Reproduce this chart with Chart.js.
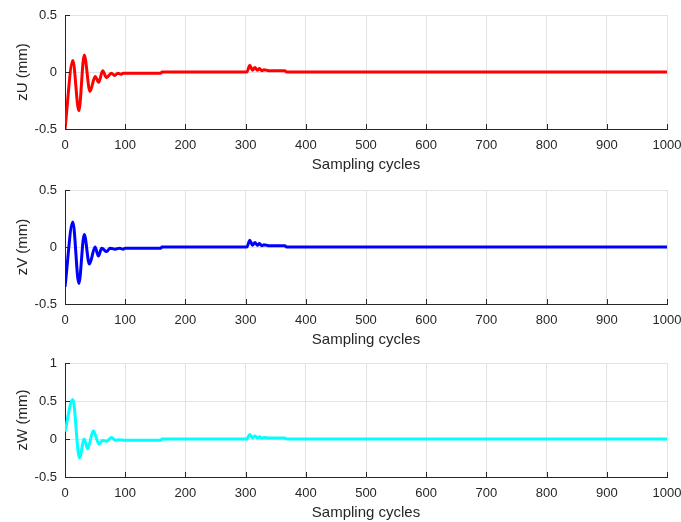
<!DOCTYPE html>
<html>
<head>
<meta charset="utf-8">
<script src="https://cdn.jsdelivr.net/npm/chart.js@4"></script>
<style>
  html, body { margin: 0; padding: 0; background: #fff; }
  #wrap { position: relative; width: 681px; height: 522px; }
  .panel { position: absolute; left: 0; width: 681px; height: 174px; }
</style>
</head>
<body>
<div id="wrap">
  <div class="panel" style="top:0px"><canvas id="chartU"></canvas></div>
  <div class="panel" style="top:175px"><canvas id="chartV"></canvas></div>
  <div class="panel" style="top:348px"><canvas id="chartW"></canvas></div>
</div>
<script>
// sampling cycle positions and values
const cyclesU = [0, 13, 23, 32, 41.5, 50, 56, 62.5, 69, 77, 82.5, 88, 93, 97, 100, 159, 161,
  302, 307, 311.5, 315.5, 319.5, 323, 327, 330.5, 338, 365, 368, 1000];
const valuesU = [-0.5, 0.10, -0.34, 0.15, -0.17, -0.04, -0.09, 0.01, -0.05, -0.01, -0.03, -0.01, -0.02, -0.01, -0.01, -0.01, 0,
  0, 0.06, 0.015, 0.04, 0.015, 0.03, 0.012, 0.02, 0.012, 0.012, 0, 0];

const cyclesV = [0, 13, 23, 32, 40.5, 50, 55.5, 61, 69, 75, 83, 91, 96.5, 100, 159, 161,
  302, 307, 311.5, 315.5, 319.5, 323, 327, 330.5, 338, 365, 368, 1000];
const valuesV = [-0.35, 0.22, -0.32, 0.11, -0.15, 0.0, -0.08, -0.01, -0.04, -0.01, -0.02, -0.01, -0.02, -0.01, -0.01, 0,
  0, 0.06, 0.015, 0.04, 0.015, 0.03, 0.012, 0.02, 0.012, 0.012, 0, 0];

const cyclesW = [0, 13, 24, 32, 37.5, 47, 56.5, 62.5, 69, 77.5, 83, 90, 100, 159, 161,
  302, 307, 311.5, 315.5, 319.5, 323, 327, 330.5, 338, 365, 368, 1000];
const valuesW = [0.1, 0.52, -0.25, 0.0, -0.13, 0.11, -0.065, -0.02, -0.03, 0.02, -0.015, -0.01, -0.015, -0.015, 0,
  0, 0.06, 0.015, 0.04, 0.015, 0.03, 0.012, 0.02, 0.012, 0.012, 0, 0];

const xTicks = [0, 100, 200, 300, 400, 500, 600, 700, 800, 900, 1000];
const yTicksUV = [-0.5, 0, 0.5];
const yTicksW = [-0.5, 0, 0.5, 1];

const FONT = '"Liberation Sans", Arial, Helvetica, sans-serif';
const AXIS = '#262626';
const GRID = '#e3e3e3';

// MATLAB style ticks pointing into the plot
const inwardTicks = {
    id: 'inwardTicks',
    afterDraw(chart) {
        const ctx = chart.ctx;
        const xs = chart.scales.x, ys = chart.scales.y;
        const area = chart.chartArea;
        ctx.save();
        ctx.strokeStyle = AXIS;
        ctx.lineWidth = 1;
        ctx.beginPath();
        xs.ticks.forEach(t => {
            const px = Math.round(xs.getPixelForValue(t.value)) + 0.5;
            ctx.moveTo(px, area.bottom);
            ctx.lineTo(px, area.bottom - 5);
        });
        ys.ticks.forEach(t => {
            const py = Math.round(ys.getPixelForValue(t.value)) + 0.5;
            ctx.moveTo(area.left, py);
            ctx.lineTo(area.left + 5, py);
        });
        ctx.stroke();
        ctx.restore();
    }
};

function makeChart(id, cycles, values, color, label, yTicks) {
    const points = cycles.map((c, i) => ({ x: c, y: values[i] }));
    const ctx = document.getElementById(id).getContext('2d');
    return new Chart(ctx, {
        type: 'line',
        data: {
            datasets: [{
                data: points,
                borderColor: color,
                borderWidth: 3,
                pointRadius: 0,
                fill: false,
                cubicInterpolationMode: 'monotone'
            }]
        },
        options: {
            responsive: false,
            animation: false,
            events: [],
            layout: { padding: { top: 15, right: 14, left: 0, bottom: 0 } },
            plugins: { legend: { display: false }, tooltip: { enabled: false } },
            scales: {
                x: {
                    type: 'linear',
                    min: 0,
                    max: 1000,
                    afterBuildTicks: s => { s.ticks = xTicks.map(v => ({ value: v })); },
                    afterFit: s => { s.height = 45; s.paddingLeft = 0; s.paddingRight = 0; },
                    grid: { color: GRID, drawTicks: false },
                    border: { color: AXIS, width: 1 },
                    ticks: { color: AXIS, padding: 9, font: { family: FONT, size: 13 }, maxRotation: 0,
                             callback: v => String(v) },
                    title: { display: true, text: 'Sampling cycles', color: AXIS,
                             font: { family: FONT, size: 15 }, padding: { top: 0, bottom: 0 } }
                },
                y: {
                    min: yTicks[0],
                    max: yTicks[yTicks.length - 1],
                    afterBuildTicks: s => { s.ticks = yTicks.map(v => ({ value: v })); },
                    afterFit: s => { s.width = 65; s.paddingTop = 0; s.paddingBottom = 0; },
                    grid: { color: GRID, drawTicks: false },
                    border: { color: AXIS, width: 1 },
                    ticks: { color: AXIS, padding: 8, font: { family: FONT, size: 13 },
                             callback: v => String(v) },
                    title: { display: true, text: label, color: AXIS,
                             font: { family: FONT, size: 15 }, padding: { top: 14, bottom: 0 } }
                }
            }
        },
        plugins: [inwardTicks]
    });
}

function sizeCanvas(id) {
    const c = document.getElementById(id);
    c.width = 681;
    c.height = 174;
    c.style.width = '681px';
    c.style.height = '174px';
}

['chartU', 'chartV', 'chartW'].forEach(sizeCanvas);

makeChart('chartU', cyclesU, valuesU, '#ff0000', 'zU (mm)', yTicksUV);
makeChart('chartV', cyclesV, valuesV, '#0000ff', 'zV (mm)', yTicksUV);
makeChart('chartW', cyclesW, valuesW, '#00ffff', 'zW (mm)', yTicksW);
</script>
</body>
</html>
